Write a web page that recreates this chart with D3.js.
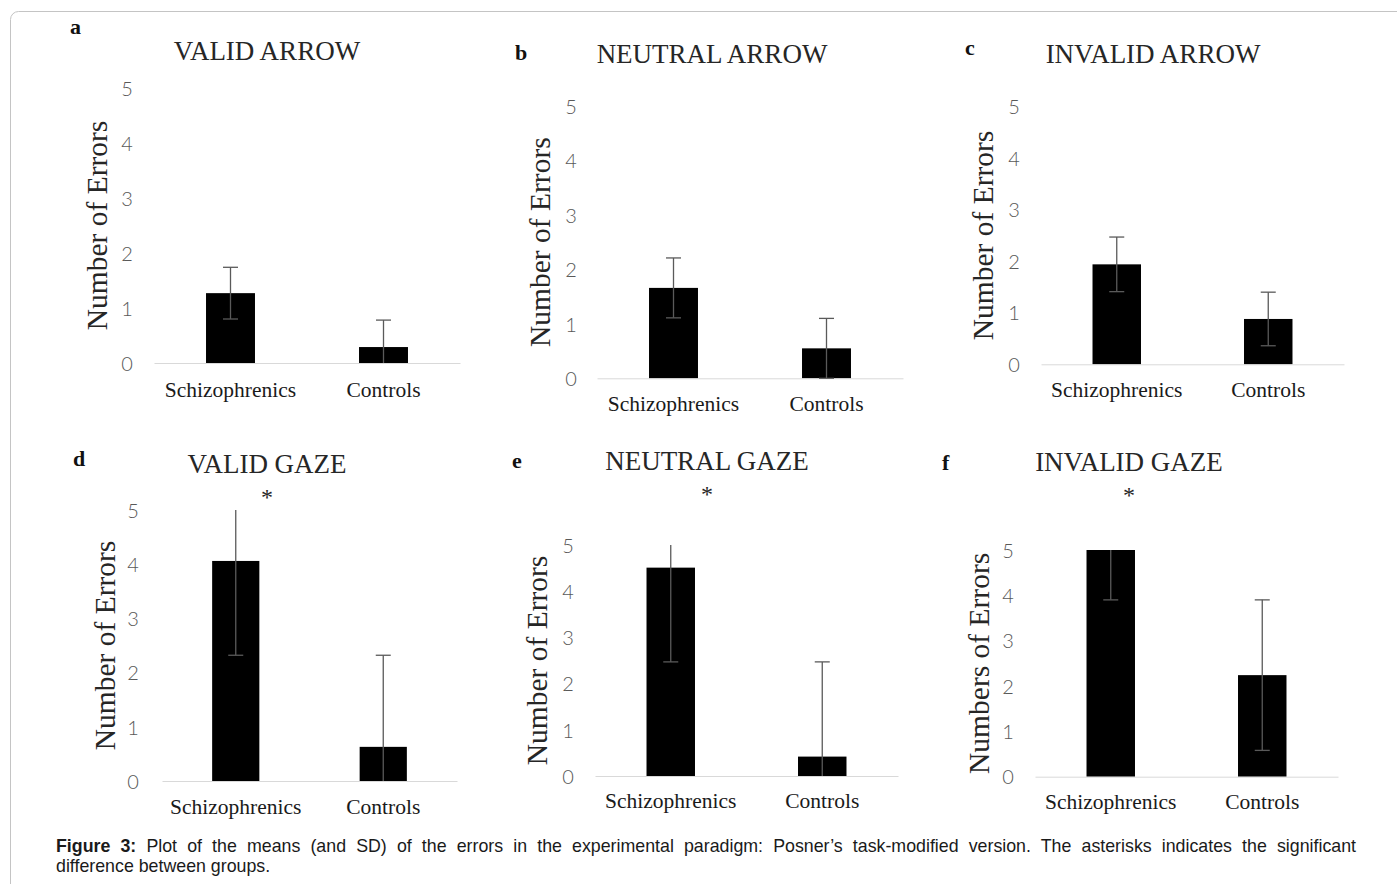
<!DOCTYPE html>
<html>
<head>
<meta charset="utf-8">
<script src="https://cdn.jsdelivr.net/npm/d3@7"></script>
<style>
  html, body { margin: 0; padding: 0; background: #fff; }
  #wrap { position: relative; width: 1397px; height: 884px; overflow: hidden; }
  svg { position: absolute; left: 0; top: 0; }
  .cap { position: absolute; left: 56px; font-family: "Liberation Sans", Arial, sans-serif;
         font-size: 17.8px; line-height: 19.5px; color: #1a1a1a; white-space: nowrap; }
</style>
</head>
<body>
<div id="wrap">
<svg id="chart" width="1397" height="884"></svg>
<div class="cap" id="cap1" style="top:837px"><b>Figure 3:</b> Plot of the means (and SD) of the errors in the experimental paradigm: Posner’s task-modified version. The asterisks indicates the significant</div>
<div class="cap" style="top:856.5px">difference between groups.</div>
</div>
<script>
// ---- data ----
const panelLetters = ["a", "b", "c", "d", "e", "f"];
const panelTitles = ["VALID ARROW", "NEUTRAL ARROW", "INVALID ARROW", "VALID GAZE", "NEUTRAL GAZE", "INVALID GAZE"];
const yAxisTitles = ["Number of Errors", "Number of Errors", "Number of Errors", "Number of Errors", "Number of Errors", "Numbers of Errors"];
const categories = ["Schizophrenics", "Controls"];
const schizophrenicsMean = [1.27, 1.66, 1.94, 4.06, 4.51, 5.00];
const schizophrenicsSD   = [0.47, 0.55, 0.53, 1.74, 2.04, 1.10];
const controlsMean = [0.29, 0.55, 0.88, 0.63, 0.42, 2.24];
const controlsSD   = [0.49, 0.55, 0.52, 1.69, 2.05, 1.66];
const significant = [false, false, false, true, true, true];
const yTicks = [0, 1, 2, 3, 4, 5];
const yDomain = [0, 5];

// ---- layout (pixel placement of each panel) ----
const layout = [
  {x0: 154, x1: 460, yb: 363,   yt: 88,    tickX: 127,  ylabX: 107, titleX: 267,  titleY: 60,  letX: 70,  letY: 34,  xlabDy: 34},
  {x0: 597, x1: 903, yb: 378.3, yt: 106,   tickX: 571,  ylabX: 550, titleX: 712,  titleY: 63,  letX: 515, letY: 60,  xlabDy: 33},
  {x0: 1041, x1: 1344, yb: 364.3, yt: 106.7, tickX: 1014, ylabX: 993, titleX: 1153, titleY: 63, letX: 965, letY: 55, xlabDy: 33},
  {x0: 162, x1: 457, yb: 781,   yt: 510,   tickX: 133,  ylabX: 115, titleX: 267,  titleY: 473, letX: 73,  letY: 466, xlabDy: 33},
  {x0: 595, x1: 898, yb: 776,   yt: 545,   tickX: 568,  ylabX: 547, titleX: 707,  titleY: 470, letX: 512, letY: 468, xlabDy: 32},
  {x0: 1035, x1: 1338, yb: 776.7, yt: 550, tickX: 1008, ylabX: 989, titleX: 1129, titleY: 471, letX: 942, letY: 470, xlabDy: 32}
];

const serif = "'Liberation Serif', 'Times New Roman', serif";
const svg = d3.select("#chart");

// outer frame
svg.append("rect")
  .attr("x", 10.5).attr("y", 11.5).attr("width", 1420).attr("height", 900)
  .attr("rx", 8).attr("fill", "none").attr("stroke", "#c4c4c4").attr("stroke-width", 1);

panelLetters.forEach((letter, i) => {
  const L = layout[i];
  const g = svg.append("g");

  const x = d3.scaleBand().domain(categories).range([L.x0, L.x1])
    .paddingInner(0.68).paddingOuter(0.34);
  const y = d3.scaleLinear().domain(yDomain).range([L.yb, L.yt]);

  const rows = categories.map((c, k) => ({
    cat: c,
    mean: k === 0 ? schizophrenicsMean[i] : controlsMean[i],
    sd: k === 0 ? schizophrenicsSD[i] : controlsSD[i]
  }));

  // panel letter
  g.append("text").attr("x", L.letX).attr("y", L.letY)
    .attr("font-family", serif).attr("font-weight", "bold").attr("font-size", 22)
    .attr("fill", "#111").text(letter);

  // title
  g.append("text").attr("x", L.titleX).attr("y", L.titleY)
    .attr("text-anchor", "middle").attr("font-family", serif).attr("font-size", 27)
    .attr("fill", "#262626").text(panelTitles[i]);

  if (significant[i]) {
    g.append("text").attr("x", L.titleX).attr("y", L.titleY + 32)
      .attr("text-anchor", "middle").attr("font-family", serif).attr("font-size", 24)
      .attr("fill", "#262626").text("*");
  }

  // y tick labels
  const ya = g.append("g").attr("transform", `translate(${L.tickX},0)`)
    .call(d3.axisLeft(y).tickValues(yTicks).tickSize(0).tickPadding(0).tickFormat(d3.format("d")));
  ya.select(".domain").remove();
  ya.selectAll("text").attr("text-anchor", "middle").attr("x", 0).attr("dy", "0.36em")
    .attr("font-family", "Lato, 'Open Sans', sans-serif").attr("font-weight", 300)
    .attr("font-size", 20).attr("fill", "#595959");

  // y axis title
  g.append("text")
    .attr("transform", `translate(${L.ylabX},${(L.yb + L.yt) / 2}) rotate(-90)`)
    .attr("text-anchor", "middle").attr("font-family", serif).attr("font-size", 29.5)
    .attr("fill", "#262626").text(yAxisTitles[i]);

  // bars
  g.selectAll("rect.bar").data(rows).enter().append("rect")
    .attr("class", "bar")
    .attr("x", d => x(d.cat)).attr("width", x.bandwidth())
    .attr("y", d => y(Math.min(d.mean, yDomain[1])))
    .attr("height", d => y(0) - y(Math.min(d.mean, yDomain[1])))
    .attr("fill", "#000");

  // x axis
  const xa = g.append("g").attr("transform", `translate(0,${L.yb})`)
    .call(d3.axisBottom(x).tickSize(0).tickSizeOuter(0));
  xa.select(".domain").attr("stroke", "#d9d9d9").attr("stroke-width", 1);
  xa.selectAll("text").attr("y", L.xlabDy).attr("dy", 0)
    .attr("font-family", serif).attr("font-size", 21.5).attr("fill", "#1a1a1a");

  // error bars (clipped to plot range)
  const capW = 7.5;
  rows.forEach(d => {
    const cx = x(d.cat) + x.bandwidth() / 2;
    const lo = d.mean - d.sd, hi = d.mean + d.sd;
    const loC = Math.max(lo, yDomain[0]), hiC = Math.min(hi, yDomain[1]);
    const eg = g.append("g").attr("stroke", "#5a5a5a").attr("stroke-width", 1.3);
    eg.append("line").attr("x1", cx).attr("x2", cx).attr("y1", y(loC)).attr("y2", y(hiC));
    if (hi <= yDomain[1]) eg.append("line").attr("x1", cx - capW).attr("x2", cx + capW).attr("y1", y(hi)).attr("y2", y(hi));
    if (lo >= yDomain[0]) eg.append("line").attr("x1", cx - capW).attr("x2", cx + capW).attr("y1", y(lo)).attr("y2", y(lo));
  });
});

// justify caption line 1 to the reference width
const cap1 = document.getElementById("cap1");
const targetW = 1300;
const w = cap1.getBoundingClientRect().width;
const spaces = (cap1.textContent.match(/ /g) || []).length;
if (w < targetW) cap1.style.wordSpacing = ((targetW - w) / spaces) + "px";
else cap1.style.letterSpacing = ((targetW - w) / cap1.textContent.length) + "px";
</script>
</body>
</html>
